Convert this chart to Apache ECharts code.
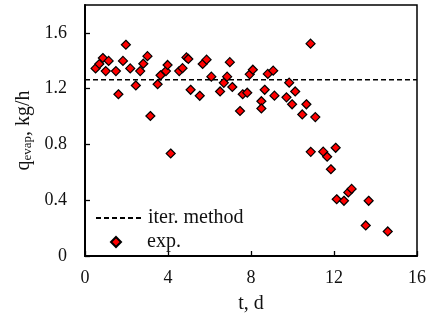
<!DOCTYPE html>
<html>
<head>
<meta charset="utf-8">
<script src="https://cdn.jsdelivr.net/npm/echarts@6/dist/echarts.min.js"></script>
<style>
  html, body { margin: 0; padding: 0; background: #fff; }
  #chart { width: 433px; height: 322px; }
</style>
</head>
<body>
<div id="chart"></div>
<script>
// measured points, t in days
var expT = [0.51, 0.69, 0.86, 1.00, 1.14, 1.49, 1.61, 1.83, 1.97, 2.18,
            2.45, 2.66, 2.81, 3.01, 3.15, 3.50, 3.64, 3.90, 3.98, 4.13,
            4.54, 4.70, 4.89, 4.98, 5.09, 5.53, 5.67, 5.86, 6.09, 6.51,
            6.69, 6.85, 6.98, 7.10, 7.47, 7.60, 7.82, 7.94, 8.09, 8.50,
            8.50, 8.66, 8.81, 9.07, 9.13, 9.71, 9.84, 10.13, 9.98, 10.47,
            10.67, 10.87, 11.10, 10.88, 11.48, 11.67, 12.08, 11.85, 12.13, 12.48,
            12.69, 12.85, 13.67, 13.53, 14.59]
// evaporation rate, kg/h
var expQ = [1.345, 1.377, 1.420, 1.326, 1.399, 1.326, 1.160, 1.399, 1.515, 1.345,
            1.223, 1.326, 1.379, 1.433, 1.004, 1.232, 1.296, 1.326, 1.370, 0.735,
            1.326, 1.347, 1.424, 1.413, 1.192, 1.149, 1.377, 1.408, 1.286, 1.180,
            1.242, 1.286, 1.390, 1.212, 1.040, 1.160, 1.171, 1.303, 1.336, 1.110,
            1.058, 1.192, 1.306, 1.329, 1.150, 1.138, 1.243, 1.180, 1.088, 1.015,
            1.088, 1.523, 0.996, 0.747, 0.748, 0.712, 0.776, 0.622, 0.407, 0.396,
            0.456, 0.481, 0.396, 0.219, 0.176]

// iterative method result (constant)
var iterT = [0, 16]
var iterQ = [1.264, 1.264]

var xTicks = [0, 4, 8, 12, 16]
var yTicks = [0, 0.4, 0.8, 1.2, 1.6]

var font = 'Liberation Serif'

var expData = []
for (var i = 0; i < expT.length; i++) {
    expData.push([expT[i], expQ[i]])
}
var iterData = []
for (var j = 0; j < iterT.length; j++) {
    iterData.push([iterT[j], iterQ[j]])
}

var myChart = echarts.init(document.getElementById('chart'))

var option = {
    animation: false,
    grid: {
        left: 85,
        right: 16,
        top: 5,
        bottom: 66,
        show: true,
        borderColor: '#000',
        borderWidth: 1.5
    },
    // two legends so the diamond keeps its shape
    legend: [
        {
            left: 90,
            top: 203,
            itemWidth: 47,
            itemHeight: 9,
            textStyle: { fontFamily: font, fontSize: 20, color: '#111' },
            data: [{ name: 'iter. method', itemStyle: { opacity: 0 } }]
        },
        {
            left: 105,
            top: 227,
            itemWidth: 10,
            itemHeight: 10,
            symbolKeepAspect: true,
            textStyle: { fontFamily: font, fontSize: 20, color: '#111', padding: [0, 0, 0, 21] },
            data: ['exp.']
        }
    ],
    xAxis: {
        type: 'value',
        min: 0,
        max: 16,
        interval: 4,
        name: 't, d',
        nameLocation: 'middle',
        nameGap: 38,
        nameTextStyle: { fontFamily: font, fontSize: 20, color: '#111' },
        axisLine: { lineStyle: { color: '#000', width: 2 } },
        axisTick: { inside: true, length: 5, lineStyle: { color: '#000', width: 1.3 } },
        axisLabel: {
            margin: 13,
            fontFamily: font, fontSize: 18, color: '#111',
            formatter: function (v) { return xTicks.indexOf(v) >= 0 ? String(v) : '' }
        },
        splitLine: { show: false }
    },
    yAxis: {
        type: 'value',
        min: 0,
        max: 1.8,
        interval: 0.4,
        name: '{a|q}{b|evap}{a|, kg/h}',
        nameLocation: 'middle',
        nameGap: 46,
        nameTextStyle: {
            rich: {
                a: { fontFamily: font, fontSize: 20, lineHeight: 20, color: '#111', verticalAlign: 'top' },
                b: { fontFamily: font, fontSize: 13, lineHeight: 13, color: '#111', verticalAlign: 'bottom', padding: [11, 0, 0, 0] }
            }
        },
        axisLine: { lineStyle: { color: '#000', width: 2 } },
        axisTick: { inside: true, length: 5, lineStyle: { color: '#000', width: 1.3 } },
        axisLabel: {
            margin: 18,
            showMaxLabel: false,
            fontFamily: font, fontSize: 18, color: '#111',
            formatter: function (v) {
                for (var k = 0; k < yTicks.length; k++) {
                    if (Math.abs(yTicks[k] - v) < 1e-6) return v === 0 ? '0' : v.toFixed(1)
                }
                return ''
            }
        },
        splitLine: { show: false }
    },
    series: [
        {
            name: 'iter. method',
            type: 'line',
            data: iterData,
            symbol: 'none',
            lineStyle: { color: '#000', width: 1.4, type: [5, 3] },
            itemStyle: { color: '#000' },
            z: 1
        },
        {
            name: 'exp.',
            type: 'scatter',
            data: expData,
            symbol: 'diamond',
            symbolSize: 9,
            itemStyle: { color: '#ff0000', borderColor: '#000', borderWidth: 1.2, opacity: 1 },
            z: 2
        }
    ]
}

myChart.setOption(option)
</script>
</body>
</html>
